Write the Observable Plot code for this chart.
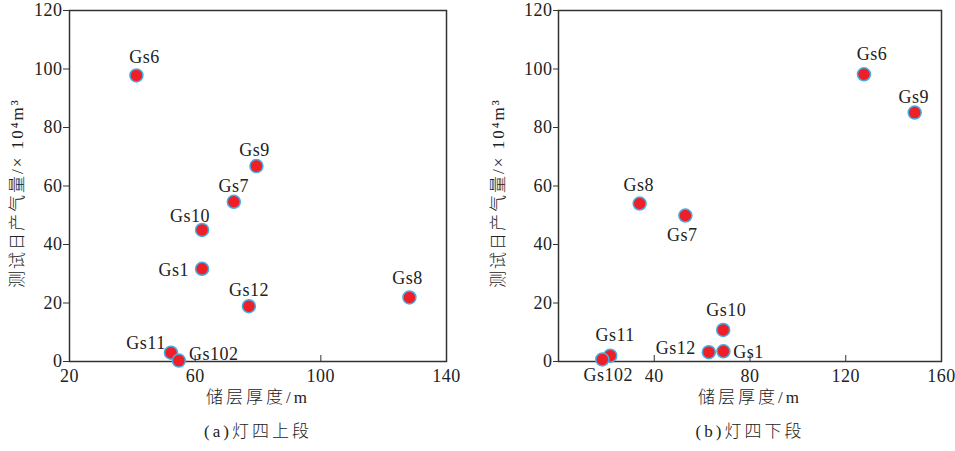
<!DOCTYPE html>
<html>
<head>
<meta charset="utf-8">
<script src="https://cdn.jsdelivr.net/npm/d3@7"></script>
<script src="https://cdn.jsdelivr.net/npm/@observablehq/plot@0.6"></script>
<style>
  body { margin: 0; background: #fff; }
  #wrap { position: relative; width: 955px; height: 451px; overflow: hidden; }
  #a, #b { position: absolute; top: 0; }
  #a { left: 0; }
  #b { left: 478px; }
  svg text { font-family: "Liberation Serif", "Noto Sans CJK SC", serif; }
</style>
</head>
<body>
<div id="wrap"><div id="a"></div><div id="b"></div></div>
<script>
// Panel (a) 灯四上段
const namesA = ["Gs6", "Gs9", "Gs7", "Gs10", "Gs1", "Gs12", "Gs8", "Gs11", "Gs102"];
const thickA = [41.3, 79.5, 72.3, 62.2, 62.2, 77.1, 128.2, 52.3, 54.8];
const gasA   = [97.8, 66.8, 54.6, 45.0, 31.7, 18.9, 21.9, 3.0, 0.3];
// Panel (b) 灯四下段
const namesB = ["Gs6", "Gs9", "Gs8", "Gs7", "Gs10", "Gs1", "Gs12", "Gs11", "Gs102"];
const thickB = [127.6, 148.8, 33.9, 53.0, 68.8, 68.9, 62.8, 21.6, 18.3];
const gasB   = [98.2, 85.1, 54.0, 49.9, 10.8, 3.5, 3.2, 2.0, 0.7];

const xTicksA = [20, 60, 100, 140];
const xTicksB = [40, 80, 120, 160];
const yTicks = [0, 20, 40, 60, 80, 100, 120];

const xLabel = "储层厚度/m";
const yLabel = "测试日产气量/× 10⁴m³";
const captionA = "(a)灯四上段";
const captionB = "(b)灯四下段";

// label placement (layout only): [dx, dy, textAnchor]
const placeA = {
  Gs6: [8, -18], Gs9: [-2, -16], Gs7: [0, -16], Gs10: [-12, -14],
  Gs1: [-13, 1, "end"], Gs12: [0, -16], Gs8: [-2, -19],
  Gs11: [-25, -9], Gs102: [35, -6]
};
const placeB = {
  Gs6: [8, -20], Gs9: [-1, -15], Gs8: [-1, -18], Gs7: [-3, 20],
  Gs10: [3, -20], Gs1: [25, 1], Gs12: [-33, -4],
  Gs11: [5, -20], Gs102: [6, 16]
};

const TXT = "#222";

function panel({names, xs, ys, xDomain, xTicks, place, width, ml, mr, ylabDx, yTickSize, caption}) {
  const data = names.map((n, i) => ({name: n, x: xs[i], y: ys[i]}));
  const labelMarks = data.map(d => {
    const p = place[d.name];
    return Plot.text([d], {
      x: "x", y: "y", text: "name",
      dx: p[0], dy: p[1], textAnchor: p[2] || "middle",
      fill: TXT, fontSize: 18
    });
  });
  return Plot.plot({
    width, height: 451,
    marginLeft: ml, marginRight: mr, marginTop: 10, marginBottom: 90,
    style: {fontSize: "18px", color: TXT, background: "#fff"},
    x: {domain: xDomain},
    y: {domain: [0, 120]},
    marks: [
      Plot.axisY({ticks: yTicks, tickSize: yTickSize, tickPadding: 1, label: null, fontSize: 18, stroke: "#333"}),
      Plot.axisX({ticks: xTicks, tickSize: -6, tickPadding: 14, label: null, fontSize: 18, stroke: "#333"}),
      Plot.frame({stroke: "#333", strokeWidth: 1.5}),
      Plot.dot(data, {x: "x", y: "y", r: 6.5, fill: "#ee1f26", stroke: "#45ade2", strokeWidth: 1.5}),
      ...labelMarks,
      Plot.text([xLabel], {frameAnchor: "bottom", dy: 41, fill: TXT, fontSize: 17}),
      Plot.text([yLabel], {frameAnchor: "left", textAnchor: "middle", rotate: -90, dx: ylabDx, dy: 7, fill: TXT, fontSize: 17}),
      Plot.text([caption], {frameAnchor: "bottom", dy: 75, fill: TXT, fontSize: 17})
    ]
  });
}

document.getElementById("a").append(panel({
  names: namesA, xs: thickA, ys: gasA, xDomain: [20, 140], xTicks: xTicksA,
  place: placeA, width: 478, ml: 69, mr: 32, ylabDx: -52, yTickSize: 6, caption: captionA
}));
document.getElementById("b").append(panel({
  names: namesB, xs: thickB, ys: gasB, xDomain: [0, 160], xTicks: xTicksB,
  place: placeB, width: 477, ml: 80, mr: 14, ylabDx: -60, yTickSize: 5, caption: captionB
}));
// letter spacing: CJK labels wider, tick/point labels slightly
document.querySelectorAll("svg text").forEach(t => {
  const s = t.textContent;
  if (/[\u4e00-\u9fff]/.test(s)) {
    t.setAttribute("letter-spacing", s === yLabel ? "2" : "3");
    t.style.fontWeight = "300";
  } else {
    t.setAttribute("letter-spacing", "0.5");
  }
});
</script>
</body>
</html>
